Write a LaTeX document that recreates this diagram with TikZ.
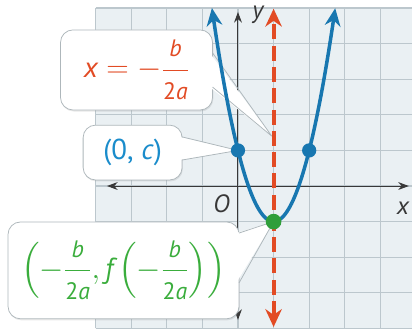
\documentclass[tikz,border=0pt]{standalone}
\usepackage{amsmath}
\usepackage{fontspec}
\setmainfont{PT Sans}
\usepackage{tikz}
\usetikzlibrary{arrows.meta,shadows}
\definecolor{graphInk}{HTML}{383838}
\definecolor{graphGridFill}{HTML}{EAF0F3}
\definecolor{graphGridLine}{HTML}{BCC7CD}
\definecolor{graphBlue}{HTML}{1877B0}
\definecolor{graphBlueText}{HTML}{1A8CCB}
\definecolor{graphRed}{HTML}{E24B24}
\definecolor{graphGreen}{HTML}{2F9E3A}
\definecolor{graphGreenText}{HTML}{3AAD3C}
\definecolor{graphFrame}{HTML}{AEB7BB}
\newcommand{\mi}[1]{\text{\itshape #1}}
% -b/2a with fraction parts a little smaller than the main text
\newcommand{\negbovertwoa}{-\dfrac{\text{\fontsize{19}{22}\selectfont\itshape b}}
    {\text{\fontsize{19}{22}\selectfont 2\itshape a}}}
\tikzset{
    graph/grid/.style={
        draw=graphGridLine, line width=0.9pt
    },
    graph/axis/.style={
        draw=graphInk, line width=0.8pt,
        {Stealth[length=3mm,width=2.2mm]}-{Stealth[length=3mm,width=2.2mm]}
    },
    graph/axis label/.style={
        font=\fontsize{20}{24}\selectfont\itshape, text=graphInk, inner sep=0pt
    },
    graph/curve/.style={
        draw=graphBlue, line width=2.8pt,
        {Stealth[length=5mm,width=4.4mm,inset=1.6mm]}-{Stealth[length=5mm,width=4.4mm,inset=1.6mm]}
    },
    graph/symmetry/.style={
        draw=graphRed, line width=3.2pt, dash pattern=on 12pt off 5pt,
        {Stealth[length=5mm,width=4.6mm,inset=1.6mm]}-{Stealth[length=5mm,width=4.6mm,inset=1.6mm]}
    },
    graph/dot/.style={
        circle, inner sep=0pt, minimum size=0.4cm
    },
    graph/callout/.style={
        rectangle, rounded corners=3.5mm,
        draw=graphFrame, fill=white, line width=0.6pt,
        drop shadow={opacity=0.18, shadow xshift=0.6pt, shadow yshift=-1.2pt},
        align=center, font=\fontsize{23}{28}\selectfont,
        inner sep=0pt, outer sep=0pt
    },
    graph/pointer/.style={
        draw=graphFrame, line width=0.6pt, line join=round
    }
}

\begin{document}
\begin{tikzpicture}
    \useasboundingbox (-6.685,-4.073) rectangle (4.888,5.225);

    % grid and axes
    \fill[graphGridFill] (-4,-4) rectangle (4.888,5);
    \draw[graph/grid] (-4,-4) grid (4.888,5);
    \draw[graph/axis] (-3.68,0) -- (4.8,0);
    \draw[graph/axis] (0,-3.76) -- (0,4.89);
    \node[graph/axis label] (ylabel) at (0.56,4.8) {y};
    \node[graph/axis label] (xlabel) at (4.63,-0.62) {x};
    \node[graph/axis label, anchor=base] (origin) at (-0.46,-0.73) {O};

    % marked points
    \coordinate (yintpt) at (0,1);
    \coordinate (mirrorpt) at (2,1);
    \coordinate (vertexpt) at (1,-1);
    \coordinate (axistip) at (0.95,1.4);
    \coordinate (axistop) at (1,4.98);
    \coordinate (axisbottom) at (1,-3.96);

    % callouts
    \node[graph/callout, minimum width=4.27cm, minimum height=2.25cm,
          text=graphRed] (lblaxis) at (-2.85,3.26)
        {$\mi{x} = \negbovertwoa$};
    \fill[white] ([shift={(-0.08,0.48)}]lblaxis.east) -- (axistip)
        -- ([shift={(-0.08,-0.48)}]lblaxis.east) -- cycle;
    \draw[graph/pointer] ([yshift=0.48cm]lblaxis.east) -- (axistip)
        -- ([yshift=-0.48cm]lblaxis.east);

    \node[graph/callout, minimum width=2.78cm, minimum height=1.54cm,
          text=graphBlueText] (lblyint) at (-2.96,0.94)
        {(0, \textit{c})};
    \fill[white] ([shift={(-0.08,0.44)}]lblyint.east) -- (yintpt)
        -- ([shift={(-0.08,-0.21)}]lblyint.east) -- cycle;
    \draw[graph/pointer] ([yshift=0.44cm]lblyint.east) -- (yintpt)
        -- ([yshift=-0.21cm]lblyint.east);

    \node[graph/callout, minimum width=6.49cm, minimum height=2.72cm,
          text=graphGreenText] (lblvertex) at (-3.215,-2.37)
        {$\left(\negbovertwoa,\mi{f}\left(\negbovertwoa\right)\right)$};
    \fill[white] ([shift={(-0.08,1.05)}]lblvertex.east) -- (vertexpt)
        -- ([shift={(-0.08,-0.35)}]lblvertex.east) -- cycle;
    \draw[graph/pointer] ([yshift=1.05cm]lblvertex.east) -- (vertexpt)
        -- ([yshift=-0.35cm]lblvertex.east);

    % axis of symmetry and parabola
    \draw[graph/symmetry] (axisbottom) -- (axistop);
    \draw[graph/curve] plot[domain=-0.732:2.732, samples=80, smooth]
        (\x,{2*(\x-1)^2-1});
    \node[graph/dot, fill=graphBlue] (yint) at (yintpt) {};
    \node[graph/dot, fill=graphBlue] (mirror) at (mirrorpt) {};
    \node[graph/dot, fill=graphGreen, minimum size=0.44cm] (vertex) at (vertexpt) {};
\end{tikzpicture}
\end{document}
